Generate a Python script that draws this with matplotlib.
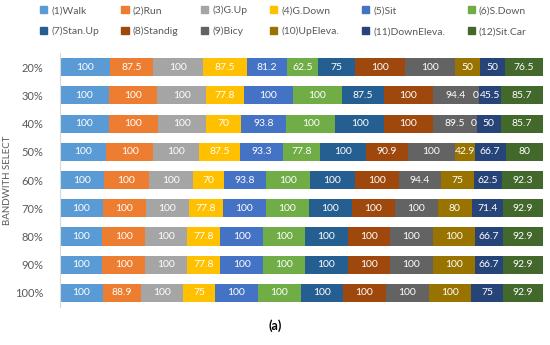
import numpy as np
import matplotlib.pyplot as plt
from matplotlib.patches import Patch

plt.rcParams['font.family'] = ['Lato', 'DejaVu Sans']

rows = ['20%', '30%', '40%', '50%', '60%', '70%', '80%', '90%', '100%']
activities = ['(1)Walk', '(2)Run', '(3)G.Up', '(4)G.Down', '(5)Sit', '(6)S.Down',
              '(7)Stan.Up', '(8)Standig', '(9)Bicy', '(10)UpEleva.', '(11)DownEleva.', '(12)Sit.Car']
colors = ['#5B9BD5', '#ED7D31', '#A5A5A5', '#FFC000', '#4472C4', '#70AD47',
          '#255E91', '#9E480E', '#636363', '#997300', '#264478', '#43682B']

# accuracy per bandwidth row (one list per row, 12 activities)
acc_20 = [100, 87.5, 100, 87.5, 81.2, 62.5, 75, 100, 100, 50, 50, 76.5]
acc_30 = [100, 100, 100, 77.8, 100, 100, 87.5, 100, 94.4, 0, 45.5, 85.7]
acc_40 = [100, 100, 100, 70, 93.8, 100, 100, 100, 89.5, 0, 50, 85.7]
acc_50 = [100, 100, 100, 87.5, 93.3, 77.8, 100, 90.9, 100, 42.9, 66.7, 80]
acc_60 = [100, 100, 100, 70, 93.8, 100, 100, 100, 94.4, 75, 62.5, 92.3]
acc_70 = [100, 100, 100, 77.8, 100, 100, 100, 100, 100, 80, 71.4, 92.9]
acc_80 = [100, 100, 100, 77.8, 100, 100, 100, 100, 100, 100, 66.7, 92.9]
acc_90 = [100, 100, 100, 77.8, 100, 100, 100, 100, 100, 100, 66.7, 92.9]
acc_100 = [100, 88.9, 100, 75, 100, 100, 100, 100, 100, 100, 75, 92.9]

data = np.array([acc_20, acc_30, acc_40, acc_50, acc_60, acc_70, acc_80, acc_90, acc_100])
share = data / data.sum(axis=1, keepdims=True) * 100

fig = plt.figure(figsize=(5.5, 3.45), dpi=100)
ax = fig.add_axes([0.109, 0.11, 0.878, 0.736])

y = np.arange(len(rows))
left = np.zeros(len(rows))
for j in range(len(activities)):
    ax.barh(y, share[:, j], left=left, height=0.64, color=colors[j], label=activities[j])
    for i in range(len(rows)):
        # zero values still get a label, tucked in at the segment edge
        ax.text(left[i] + share[i, j] / 2 - (0.7 if data[i, j] == 0 else 0), y[i],
                f'{data[i, j]:g}', ha='center', va='center', color='white', fontsize=7.5)
    left += share[:, j]

ax.set_xlim(0, 100)
ax.set_ylim(len(rows) - 0.5, -0.5)
ax.set_yticks(y)
ax.set_yticklabels(rows, color='#595959', fontsize=8)
ax.tick_params(axis='y', length=0, pad=12)
ax.set_xticks([])
for s in ['top', 'right', 'bottom']:
    ax.spines[s].set_visible(False)
ax.spines['left'].set_color('#D9D9D9')
ax.set_ylabel('BANDWITH SELECT', color='#595959', fontsize=7, labelpad=2)

# legend filled row by row: 6 columns x 2 rows
order = []
for c in range(6):
    order += [c, c + 6]
handles = [Patch(color=colors[k]) for k in order]
labels = [activities[k] for k in order]
fig.legend(handles, labels, ncol=6, loc='upper left', bbox_to_anchor=(0.055, 1.01),
           frameon=False, fontsize=7.5, handlelength=0.7, handleheight=0.7,
           handletextpad=0.4, columnspacing=2.15, labelspacing=1.1, labelcolor='#595959')

fig.text(0.5, 0.055, '(a)', ha='center', va='center', fontsize=9, fontweight='bold')

fig.savefig('out.png', dpi=100)
